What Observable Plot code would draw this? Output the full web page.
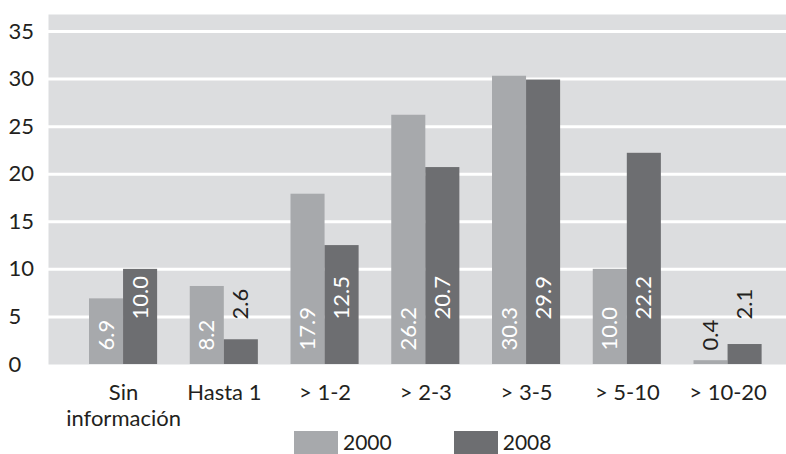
<!DOCTYPE html>
<html>
<head>
<meta charset="utf-8">
<script src="https://cdn.jsdelivr.net/npm/d3@7"></script>
<script src="https://cdn.jsdelivr.net/npm/@observablehq/plot@0.6"></script>
<style>
  html, body { margin: 0; padding: 0; background: #fff; }
  body { width: 786px; height: 454px; overflow: hidden; font-family: "Lato", sans-serif; color: #231f20; }
  #legend { display: flex; align-items: flex-start; padding-left: 294px; margin-top: 1px; font-size: 21px; height: 23px; }
  #legend .item { display: flex; align-items: flex-start; margin-right: 62px; }
  #legend .sw { width: 44px; height: 23px; margin-right: 5px; }
  #legend span { line-height: 19px; display: block; margin-top: 1px; }
</style>
</head>
<body>
<div id="chart"></div>
<div id="legend"></div>
<script>
const categories = ["Sin\ninformación", "Hasta 1", "> 1-2", "> 2-3", "> 3-5", "> 5-10", "> 10-20"];
const series = ["2000", "2008"];
const values2000 = [6.9, 8.2, 17.9, 26.2, 30.3, 10.0, 0.4];
const values2008 = [10.0, 2.6, 12.5, 20.7, 29.9, 22.2, 2.1];
const colors = ["#a7a9ac", "#6d6e71"];
const yTicks = [0, 5, 10, 15, 20, 25, 30, 35];

const textColor = "#231f20";
const bw = 0.338;
const rows = [];
categories.forEach((c, i) => {
  rows.push({idx: i, series: "2000", value: values2000[i]});
  rows.push({idx: i, series: "2008", value: values2008[i]});
});
const r2000 = rows.filter(d => d.series === "2000");
const r2008 = rows.filter(d => d.series === "2008");
const fmt = d3.format(".1f");
const labelFill = d => d.value < 3 ? textColor : "#ffffff";

const chart = Plot.plot({
  width: 786,
  height: 430,
  marginLeft: 48,
  marginRight: 0,
  marginTop: 14,
  marginBottom: 66,
  style: {fontFamily: "Lato, sans-serif", fontSize: "22px", color: textColor, background: "#fff"},
  x: {type: "linear", domain: [-0.745, 6.58]},
  y: {domain: [0, 36.79]},
  marks: [
    Plot.frame({fill: "#dcdddf", stroke: null}),
    Plot.ruleY(yTicks.filter(t => t > 0), {stroke: "#ffffff", strokeWidth: 3}),
    Plot.rect(r2000, {x1: d => d.idx - bw, x2: d => d.idx, y1: 0, y2: "value", fill: colors[0]}),
    Plot.rect(r2008, {x1: d => d.idx, x2: d => d.idx + bw, y1: 0, y2: "value", fill: colors[1]}),
    Plot.text(r2000, {x: d => d.idx - bw / 2, y: 0, dy: -14, text: d => fmt(d.value), rotate: -90, textAnchor: "start", fill: labelFill, fontSize: 22}),
    Plot.text(r2008, {x: d => d.idx + bw / 2, y: 0, dy: -45, text: d => fmt(d.value), rotate: -90, textAnchor: "start", fill: labelFill, fontSize: 22}),
    Plot.axisY({ticks: yTicks, tickSize: 0, tickPadding: 40, textAnchor: "start", fontSize: 22, fill: textColor, label: null}),
    Plot.axisX({ticks: categories.map((c, i) => i), tickFormat: i => categories[i], tickSize: 0, tickPadding: 18, lineHeight: 1.15, fontSize: 22, fill: textColor, label: null})
  ]
});
document.getElementById("chart").appendChild(chart);

const legend = document.getElementById("legend");
series.forEach((s, i) => {
  const item = document.createElement("div");
  item.className = "item";
  const sw = document.createElement("div");
  sw.className = "sw";
  sw.style.background = colors[i];
  const t = document.createElement("span");
  t.textContent = s;
  item.appendChild(sw);
  item.appendChild(t);
  legend.appendChild(item);
});
</script>
</body>
</html>
